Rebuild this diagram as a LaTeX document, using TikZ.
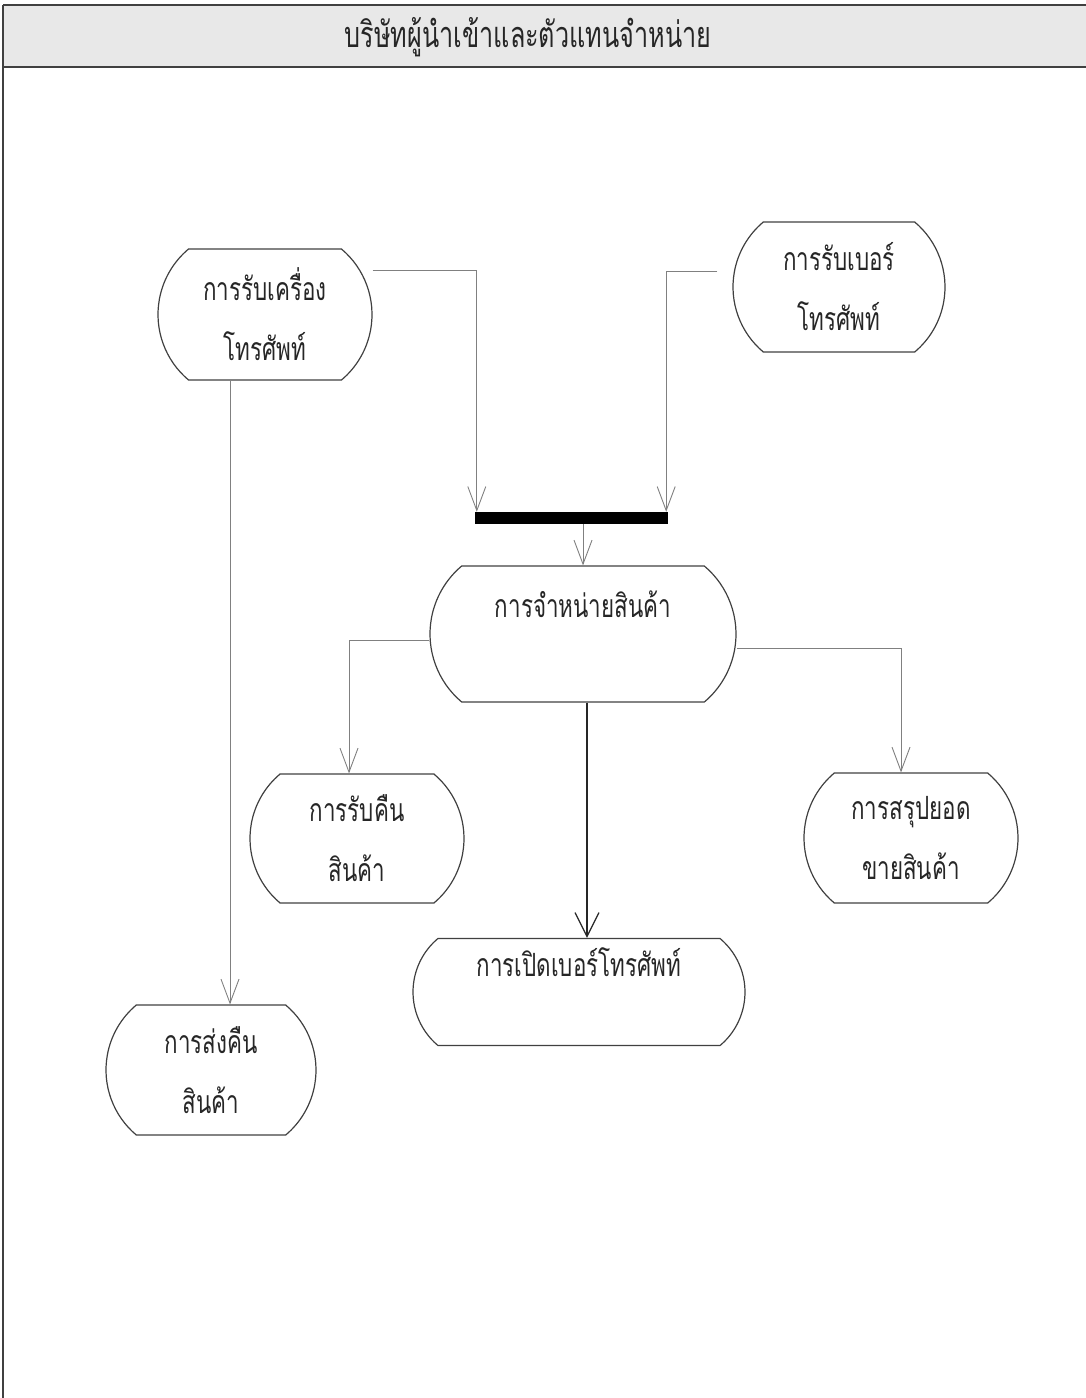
\documentclass[tikz,border=0pt]{standalone}
\usepackage{fontspec}
\newfontfamily\thaifont[Script=Thai,FakeStretch=0.7]{Loma}
\usetikzlibrary{shapes.misc,arrows.meta}
\begin{document}
\begin{tikzpicture}[x=1pt,y=-1pt,
  act/.style={rounded rectangle, rounded rectangle arc length=100,
    draw=black!75, line width=1.2pt, inner sep=0pt, align=center,
    font=\thaifont\fontsize{32}{60}\selectfont, text=black!85},
  conn/.style={draw=black!50, line width=0.9pt,
    -{Straight Barb[length=24pt,width=18pt,line width=0.9pt]}},
  mainconn/.style={draw=black!85, line width=1.4pt,
    -{Straight Barb[length=24pt,width=24pt,line width=1.2pt]}},
  joinbar/.style={fill=black, draw=none, inner sep=0pt, minimum width=193pt, minimum height=12pt},
  titlestyle/.style={font=\thaifont\fontsize{36}{40}\selectfont, text=black!85}
]
\useasboundingbox (0,0) rectangle (1086,1398);
% frame and header
\fill[black!9] (3,5) rectangle (1086,67);
\draw[black!75, line width=1.3pt] (3,5) -- (1086,5);
\draw[black!75, line width=1.3pt] (3,67) -- (1086,67);
\draw[black!75, line width=1.3pt] (3,5) -- (3,1398);
\node[titlestyle] (title) at (528,37) {บริษัทผู้นำเข้าและตัวแทนจำหน่าย};

% activity nodes
\node[act, minimum width=214pt, minimum height=131pt] (n1) at (265,314.5) {การรับเครื่อง\\โทรศัพท์};
\node[act, minimum width=212pt, minimum height=130pt] (n2) at (839,287) {การรับเบอร์\\โทรศัพท์};
\node[joinbar] (bar) at (571.5,518) {};
\node[act, minimum width=306pt, minimum height=136pt] (n3) at (583,634) {การจำหน่ายสินค้า\\\mbox{}};
\node[act, minimum width=214pt, minimum height=129pt] (n4) at (357,838.5) {การรับคืน\\สินค้า};
\node[act, minimum width=214pt, minimum height=130pt] (n6) at (911,838) {การสรุปยอด\\ขายสินค้า};
\node[act, minimum width=332pt, minimum height=107pt] (n5) at (579,992) {การเปิดเบอร์โทรศัพท์\\\mbox{}};
\node[act, minimum width=210pt, minimum height=130pt] (n7) at (211,1070) {การส่งคืน\\สินค้า};

% connectors
\draw[conn] (n1.east |- 0,270) -| ([xshift=2pt]bar.north west);
\draw[conn] ([xshift=-15pt]n2.west |- 0,271) -| ([xshift=-2pt]bar.north east);
\draw[conn] (bar.south -| n3.north) -- (n3.north);
\draw[conn] (n3.west |- 0,640) -| ([xshift=-8pt]n4.north);
\draw[conn] (n3.east |- 0,648) -| ([xshift=-10pt]n6.north);
\draw[mainconn] ([xshift=4pt]n3.south) -- ([xshift=4pt]n3.south |- n5.north);
\draw[conn] ([xshift=-35pt]n1.south) -- ([xshift=-35pt]n1.south |- n7.north);
\end{tikzpicture}
\end{document}
